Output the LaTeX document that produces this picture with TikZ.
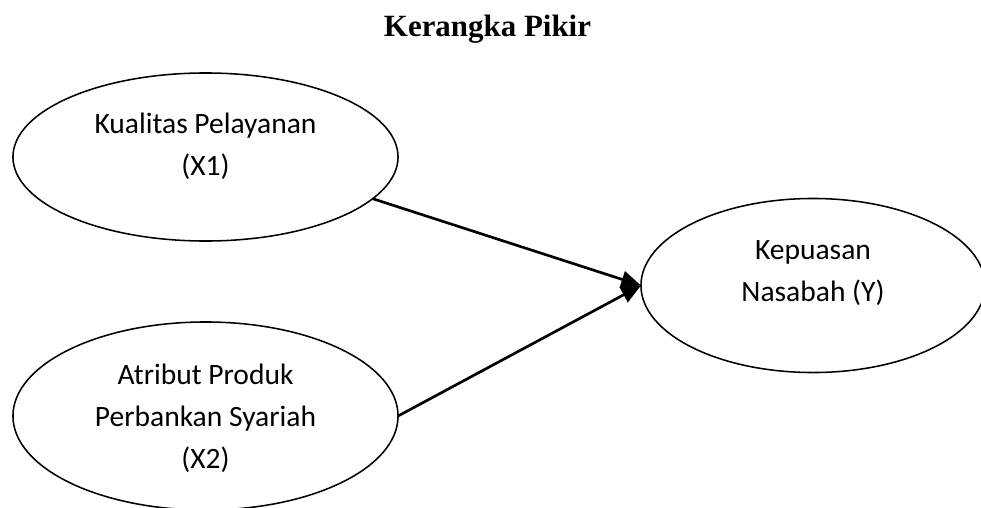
\documentclass[tikz,border=0pt]{standalone}
\usepackage{fontspec}
\setmainfont{Carlito}
\newfontfamily\titlefont{Liberation Serif}
\usepackage{tikz}
\usetikzlibrary{shapes.geometric,arrows.meta,positioning}
\tikzset{
  varbox/.style={ellipse, draw=black, line width=1.1pt, inner sep=0pt, outer sep=0pt},
  vartext/.style={align=center, inner sep=0pt, font=\fontsize{21}{29.9}\selectfont},
  link/.style={line width=1.9pt, -{Triangle[length=14pt,width=12pt]}},
}

\begin{document}
\begin{tikzpicture}[x=0.025cm, y=-0.025cm]
  \useasboundingbox (0,0) rectangle (981,507);
  % Title
  \node[anchor=base, font=\titlefont\bfseries\fontsize{22}{26}\selectfont] (title) at (487.5,36) {Kerangka Pikir};
  % Variables
  \node[varbox, minimum width=9.625cm, minimum height=4.2cm] (x1) at (205.5,157) {};
  \node[varbox, minimum width=9.625cm, minimum height=4.7cm] (x2) at (205.5,416) {};
  \node[varbox, minimum width=8.6cm, minimum height=4.35cm] (y) at (813,285.5) {};
  \node[vartext] (x1t) at ([yshift=7.8pt]x1.center) {Kualitas Pelayanan\\(X1)};
  \node[vartext] (x2t) at ([yshift=-1.4pt]x2.center) {Atribut Produk\\Perbankan Syariah\\(X2)};
  \node[vartext] (yt) at ([yshift=9pt]y.center) {Kepuasan\\Nasabah (Y)};
  % Paths
  \draw[link] (x1.-14) -- (y.west);
  \draw[link] (x2.east) -- (y.west);
\end{tikzpicture}
\end{document}
